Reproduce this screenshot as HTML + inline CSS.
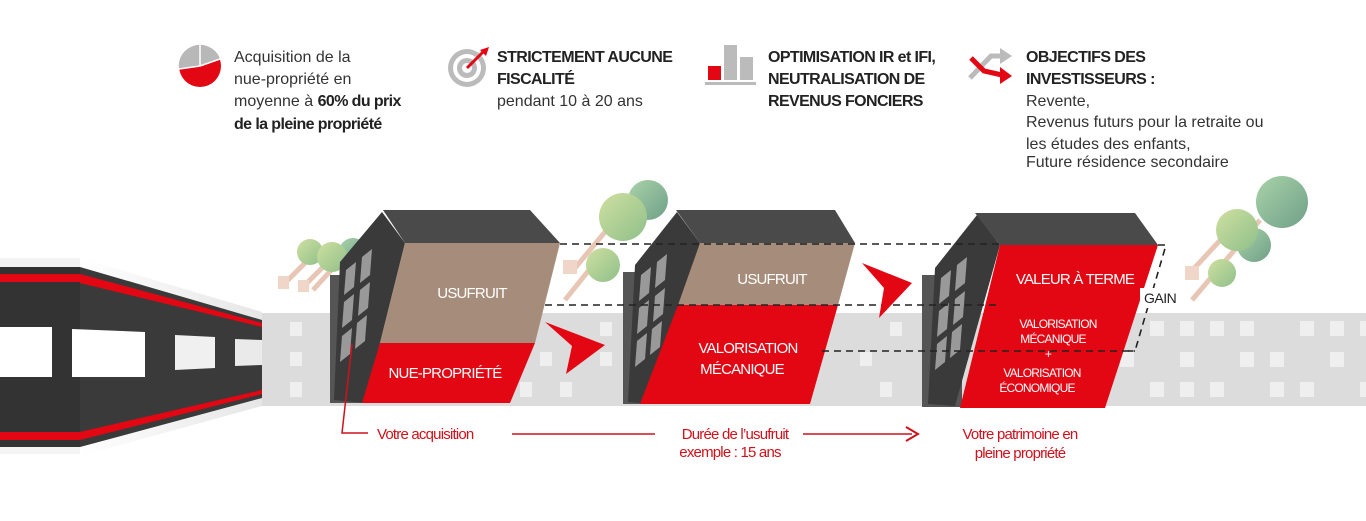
<!DOCTYPE html>
<html><head><meta charset="utf-8"><style>
html,body{margin:0;padding:0;background:#fff;}
svg{display:block}
text{font-family:"Liberation Sans",sans-serif;}
.t{font-size:16px;fill:#333;}
.b{font-size:16px;fill:#222;font-weight:bold;letter-spacing:-0.6px}
.w{fill:#fff;font-size:15px;letter-spacing:-0.8px}
.r{fill:#d0111b;font-size:15px;letter-spacing:-0.8px}
</style></head><body>
<svg width="1366" height="521" viewBox="0 0 1366 521" xmlns="http://www.w3.org/2000/svg">
<defs>
<linearGradient id="tr" x1="0" y1="0" x2="1" y2="1"><stop offset="0" stop-color="#cfe0a0"/><stop offset="1" stop-color="#8fbf8a"/></linearGradient>
<linearGradient id="tr2" x1="0" y1="0" x2="1" y2="1"><stop offset="0" stop-color="#a9d3a8"/><stop offset="1" stop-color="#6f9f88"/></linearGradient>
<linearGradient id="wall" x1="0" x2="1"><stop offset="0" stop-color="#fff"/><stop offset="1" stop-color="#e6e6e6"/></linearGradient>
</defs>

<!-- top icons -->
<circle cx="200" cy="66" r="21" fill="#e30613"/>
<path d="M200 66 L200 45 A21 21 0 0 1 220 59 Z" fill="#b8b8b8"/>
<path d="M200 66 L179 69 A21 21 0 0 1 200 45 Z" fill="#b8b8b8"/>
<path d="M200 66 L200 45 M200 66 L220 59 M200 66 L179 69" stroke="#fff" stroke-width="1.5"/>
<circle cx="467" cy="68" r="19" fill="#bbb"/><circle cx="467" cy="68" r="14" fill="#fff"/><circle cx="467" cy="68" r="10" fill="#bbb"/><circle cx="467" cy="68" r="5" fill="#fff"/>
<line x1="467" y1="68" x2="483" y2="52" stroke="#e30613" stroke-width="3"/><path d="M480 50 L489 47 L486 56 Z" fill="#e30613"/>
<rect x="708" y="66" width="13" height="14" fill="#e30613"/><rect x="724" y="45" width="13" height="35" fill="#bbb"/><rect x="740" y="57" width="13" height="23" fill="#bbb"/><rect x="705" y="82" width="51" height="3" fill="#bbb"/>
<path d="M970 78 L991 56 L1002 56" stroke="#bbb" stroke-width="5" fill="none"/><path d="M1000 48 L1012 56 L1000 64 Z" fill="#bbb"/>
<path d="M971 58 L984 71 L1002 75" stroke="#e30613" stroke-width="5" fill="none"/><path d="M1000 67 L1012 76 L1000 84 Z" fill="#e30613"/>

<text class="t" x="234" y="62">Acquisition de la</text>
<text class="t" x="234" y="84">nue-propriété en</text>
<text class="t" x="234" y="106">moyenne à <tspan class="b">60% du prix</tspan></text>
<text class="b" x="234" y="129">de la pleine propriété</text>
<text class="b" x="497" y="62">STRICTEMENT AUCUNE</text>
<text class="b" x="497" y="84">FISCALITÉ</text>
<text class="t" x="497" y="106">pendant 10 à 20 ans</text>
<text class="b" x="768" y="62">OPTIMISATION IR et IFI,</text>
<text class="b" x="768" y="84">NEUTRALISATION DE</text>
<text class="b" x="768" y="106">REVENUS FONCIERS</text>
<text class="b" x="1026" y="62">OBJECTIFS DES</text>
<text class="b" x="1026" y="84">INVESTISSEURS :</text>
<text class="t" x="1026" y="106">Revente,</text>
<text class="t" x="1026" y="127">Revenus futurs pour la retraite ou</text>
<text class="t" x="1026" y="149">les études des enfants,</text>
<text class="t" x="1026" y="167">Future résidence secondaire</text>

<!-- gray background band -->
<rect x="262" y="313" width="1104" height="93" fill="#dcdcdc"/>
<g fill="#efefef">
<rect x="290" y="322" width="12" height="14"/><rect x="430" y="322" width="12" height="14"/><rect x="470" y="322" width="12" height="14"/><rect x="600" y="322" width="12" height="14"/><rect x="890" y="322" width="12" height="14"/><rect x="1150" y="321" width="14" height="15"/><rect x="1180" y="321" width="14" height="15"/><rect x="1210" y="321" width="14" height="15"/><rect x="1240" y="321" width="14" height="15"/><rect x="1300" y="321" width="14" height="15"/><rect x="1330" y="321" width="14" height="15"/><rect x="1360" y="321" width="6" height="15"/>
<rect x="290" y="352" width="12" height="14"/><rect x="540" y="352" width="12" height="14"/><rect x="600" y="352" width="12" height="14"/><rect x="860" y="352" width="12" height="14"/><rect x="1120" y="352" width="14" height="15"/><rect x="1180" y="352" width="14" height="15"/><rect x="1240" y="352" width="14" height="15"/><rect x="1270" y="352" width="14" height="15"/><rect x="1330" y="352" width="14" height="15"/>
<rect x="290" y="382" width="12" height="15"/><rect x="520" y="382" width="12" height="15"/><rect x="560" y="382" width="12" height="15"/><rect x="880" y="382" width="12" height="15"/><rect x="1150" y="382" width="14" height="15"/><rect x="1180" y="382" width="14" height="15"/><rect x="1210" y="382" width="14" height="15"/><rect x="1270" y="382" width="14" height="15"/><rect x="1300" y="382" width="14" height="15"/><rect x="1360" y="382" width="6" height="15"/>
</g>

<!-- tunnel -->
<rect x="0" y="258" width="80" height="196" fill="#f4f4f4"/>
<polygon points="80,258 262,312 262,406 80,456" fill="url(#wall)"/>
<rect x="0" y="267" width="80" height="180" fill="#333"/>
<rect x="0" y="274" width="80" height="8" fill="#e30613"/>
<rect x="0" y="432" width="80" height="8" fill="#e30613"/>
<polygon points="80,267 262,320 262,398 80,447" fill="#3a3a3a"/>
<polygon points="80,274 262,323 262,327 80,283" fill="#e30613"/>
<polygon points="80,432 262,390 262,394 80,440" fill="#e30613"/>
<rect x="0" y="327" width="52" height="50" fill="#fff"/>
<polygon points="72,329 145,332 145,377 72,377" fill="#fff"/>
<polygon points="175,335 215,337 215,368 175,370" fill="#f0f0f0"/>
<polygon points="235,339 262,340 262,365 235,366" fill="#eaeaea"/>

<!-- trees -->
<g stroke="#e8c6b5" stroke-width="5">
<line x1="283" y1="285" x2="310" y2="258"/><line x1="300" y1="290" x2="330" y2="260"/><line x1="313" y1="290" x2="345" y2="255"/>
<line x1="565" y1="300" x2="605" y2="250"/><line x1="575" y1="268" x2="615" y2="220"/>
<line x1="1188" y1="275" x2="1225" y2="235"/><line x1="1192" y1="300" x2="1260" y2="220"/>
</g>
<g fill="#f0d6c8"><rect x="278" y="276" width="11" height="13"/><rect x="298" y="280" width="11" height="12"/><rect x="563" y="260" width="14" height="14"/><rect x="1185" y="266" width="14" height="14"/></g>
<circle cx="353" cy="252" r="14" fill="url(#tr2)"/><circle cx="310" cy="252" r="13" fill="url(#tr)"/><circle cx="332" cy="257" r="15" fill="url(#tr)"/>
<circle cx="648" cy="200" r="20" fill="url(#tr2)"/><circle cx="623" cy="217" r="24" fill="url(#tr)"/><circle cx="603" cy="265" r="17" fill="url(#tr)"/>
<circle cx="1282" cy="202" r="26" fill="url(#tr2)"/><circle cx="1254" cy="245" r="17" fill="url(#tr2)"/><circle cx="1237" cy="230" r="21" fill="url(#tr)"/><circle cx="1222" cy="273" r="14" fill="url(#tr)"/>

<!-- building 1 -->
<rect x="330" y="275" width="40" height="128" fill="#555"/>
<polygon points="382,212 405,243 365,403 334,400 340,262" fill="#3a3a3a"/>
<g fill="#999"><polygon points="346,270 356,262 354,287 344,295"/><polygon points="362,257 372,249 370,275 360,283"/><polygon points="344,302 354,294 352,320 342,328"/><polygon points="360,290 370,282 368,308 358,316"/><polygon points="342,336 352,328 350,354 340,362"/><polygon points="357,323 367,315 365,341 355,349"/></g>
<polygon points="383,210 530,210 560,243 405,243" fill="#4a4a4a"/>
<polygon points="405,243 560,243 535,343 380,343" fill="#a68c7a"/>
<polygon points="380,343 535,343 510,403 362,403" fill="#e30613"/>
<text class="w" x="472" y="298" text-anchor="middle">USUFRUIT</text>
<text class="w" x="445" y="378" text-anchor="middle">NUE-PROPRIÉTÉ</text>

<!-- building 2 -->
<rect x="623" y="272" width="40" height="132" fill="#555"/>
<polygon points="677,212 700,243 655,404 628,402 635,265" fill="#3a3a3a"/>
<g fill="#999"><polygon points="641,275 651,267 649,293 639,301"/><polygon points="657,262 667,254 665,280 655,288"/><polygon points="639,308 649,300 647,326 637,334"/><polygon points="655,296 665,288 663,314 653,322"/><polygon points="637,341 647,333 645,359 635,367"/><polygon points="652,329 662,321 660,347 650,355"/></g>
<polygon points="676,210 835,210 855,243 700,243" fill="#4a4a4a"/>
<polygon points="700,243 855,243 838,305 678,305" fill="#a68c7a"/>
<polygon points="678,305 838,305 810,404 640,404" fill="#e30613"/>
<text class="w" x="772" y="284" text-anchor="middle">USUFRUIT</text>
<text class="w" x="748" y="353" text-anchor="middle">VALORISATION</text>
<text class="w" x="742" y="374" text-anchor="middle">MÉCANIQUE</text>

<!-- building 3 -->
<rect x="922" y="275" width="40" height="132" fill="#555"/>
<polygon points="977,215 1000,245 955,406 928,404 935,268" fill="#3a3a3a"/>
<g fill="#999"><polygon points="941,278 951,270 949,296 939,304"/><polygon points="957,265 967,257 965,283 955,291"/><polygon points="939,311 949,303 947,329 937,337"/><polygon points="955,299 965,291 963,317 953,325"/><polygon points="937,344 947,336 945,362 935,370"/><polygon points="952,332 962,324 960,350 950,358"/></g>
<polygon points="975,213 1135,213 1158,245 1000,245" fill="#4a4a4a"/>
<polygon points="1000,245 1158,245 1105,408 960,408" fill="#e30613"/>
<text class="w" x="1075" y="284" text-anchor="middle">VALEUR À TERME</text>
<text class="w" style="font-size:12px" x="1058" y="328" text-anchor="middle">VALORISATION</text>
<text class="w" style="font-size:12px" x="1053" y="343" text-anchor="middle">MÉCANIQUE</text>
<text class="w" style="font-size:12px" x="1048" y="358" text-anchor="middle">+</text>
<text class="w" style="font-size:12px" x="1042" y="377" text-anchor="middle">VALORISATION</text>
<text class="w" style="font-size:12px" x="1037" y="392" text-anchor="middle">ÉCONOMIQUE</text>

<!-- dashed lines -->
<g stroke="#222" stroke-width="1.6" stroke-dasharray="7,5" fill="none">
<line x1="560" y1="244" x2="1000" y2="244"/>
<line x1="545" y1="305" x2="1000" y2="305"/>
<line x1="822" y1="351" x2="1135" y2="351"/>
<path d="M1158 245 L1166 245 L1135 351 L1128 351"/>
</g>
<rect x="1140" y="288" width="40" height="20" fill="#fff"/>
<text x="1144" y="303" font-size="14" fill="#222" letter-spacing="-0.5">GAIN</text>

<!-- arrows -->
<polygon points="545,322 605,345 566,374 572,346" fill="#e30613"/>
<polygon points="862,263 912,283 879,318 884,288" fill="#e30613"/>

<!-- bottom labels -->
<path d="M352 344 L342 433 L368 433" stroke="#d0111b" stroke-width="1.5" fill="none"/>
<text class="r" x="377" y="439">Votre acquisition</text>
<line x1="512" y1="434" x2="655" y2="434" stroke="#d0111b" stroke-width="1.5"/>
<text class="r" x="735" y="439" text-anchor="middle">Durée de l’usufruit</text>
<text class="r" x="730" y="457" text-anchor="middle">exemple : 15 ans</text>
<line x1="803" y1="434" x2="912" y2="434" stroke="#d0111b" stroke-width="1.5"/>
<path d="M906 427 L918 434 L906 441" stroke="#d0111b" stroke-width="2" fill="none"/>
<text class="r" x="1020" y="439" text-anchor="middle">Votre patrimoine en</text>
<text class="r" x="1020" y="458" text-anchor="middle">pleine propriété</text>
</svg>
</body></html>
